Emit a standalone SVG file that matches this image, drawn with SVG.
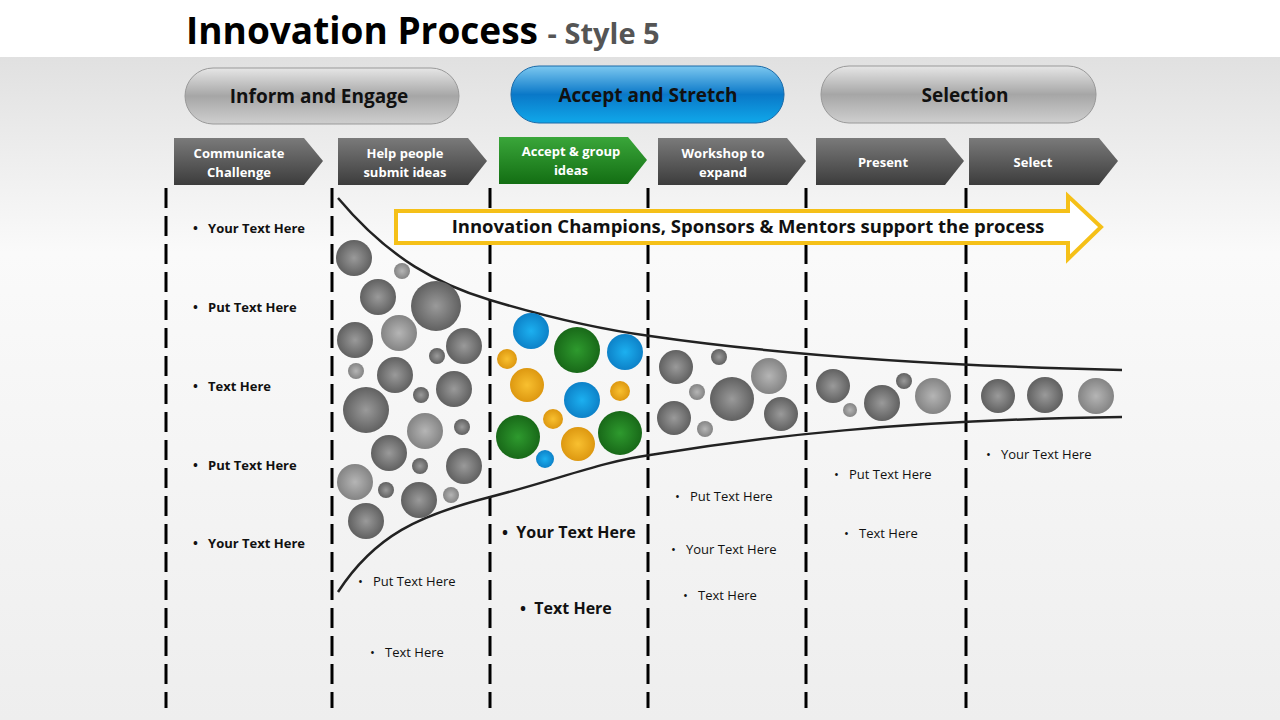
<svg xmlns="http://www.w3.org/2000/svg" width="1280" height="720" viewBox="0 0 1280 720">
<defs>
<linearGradient id="bg" x1="0" y1="0" x2="0" y2="1"><stop offset="0" stop-color="#d9d9d9"/><stop offset="0.35" stop-color="#fafafa"/><stop offset="1" stop-color="#eeeeee"/></linearGradient>
<linearGradient id="pg" x1="0" y1="0" x2="0" y2="1"><stop offset="0" stop-color="#e6e6e6"/><stop offset="0.5" stop-color="#a6a6a6"/><stop offset="1" stop-color="#cfcfcf"/></linearGradient>
<linearGradient id="pb" x1="0" y1="0" x2="0" y2="1"><stop offset="0" stop-color="#7cc8f0"/><stop offset="0.5" stop-color="#0a78c8"/><stop offset="1" stop-color="#10a8ea"/></linearGradient>
<linearGradient id="ag" x1="0" y1="0" x2="0" y2="1"><stop offset="0" stop-color="#7a7a7a"/><stop offset="1" stop-color="#3c3c3c"/></linearGradient>
<linearGradient id="agr" x1="0" y1="0" x2="0" y2="1"><stop offset="0" stop-color="#3aa63a"/><stop offset="1" stop-color="#136e13"/></linearGradient>
<radialGradient id="g1" cx="0.5" cy="0.5" r="0.6"><stop offset="0" stop-color="#9a9a9a"/><stop offset="1" stop-color="#555"/></radialGradient>
<radialGradient id="g2" cx="0.5" cy="0.5" r="0.6"><stop offset="0" stop-color="#b5b5b5"/><stop offset="1" stop-color="#7a7a7a"/></radialGradient>
<radialGradient id="gb" cx="0.5" cy="0.5" r="0.6"><stop offset="0" stop-color="#1cb0f0"/><stop offset="1" stop-color="#0a78c0"/></radialGradient>
<radialGradient id="gg" cx="0.5" cy="0.5" r="0.6"><stop offset="0" stop-color="#2e9a2e"/><stop offset="1" stop-color="#145f14"/></radialGradient>
<radialGradient id="go" cx="0.5" cy="0.5" r="0.6"><stop offset="0" stop-color="#f8c030"/><stop offset="1" stop-color="#d8900a"/></radialGradient>
</defs>
<style>
text{font-family:"Open Sans","Liberation Sans",sans-serif;white-space:pre}
.pill{font-size:19px;font-weight:bold;fill:#111;text-anchor:middle}
.hd{font-size:13px;font-weight:bold;fill:#fff;text-anchor:middle}
.b{font-size:13px;font-weight:bold;fill:#111}
.n{font-size:13px;fill:#111}
.bb{font-size:16px;font-weight:bold;fill:#111}
.dash{stroke:#000;stroke-width:3;stroke-dasharray:20,8}
.c1{fill:url(#g1)}.c2{fill:url(#g2)}.cb{fill:url(#gb)}.cg{fill:url(#gg)}.co{fill:url(#go)}
</style>
<rect width="1280" height="720" fill="url(#bg)"/>
<rect width="1280" height="57" fill="#fff"/>
<text x="186" y="44" style="font-size:37px;font-weight:bold" fill="#000">Innovation Process <tspan font-size="29" fill="#555">- Style 5</tspan></text>
<g id="pill1"><rect x="185" y="68" width="274" height="56" rx="28" fill="url(#pg)" stroke="#999"/><text class="pill" x="319" y="103">Inform and Engage</text></g>
<g id="pill2"><rect x="511" y="66" width="273" height="57" rx="28" fill="url(#pb)" stroke="#1a6aa8"/><text class="pill" x="648" y="102">Accept and Stretch</text></g>
<g id="pill3"><rect x="821" y="66" width="275" height="57" rx="28" fill="url(#pg)" stroke="#999"/><text class="pill" x="965" y="102">Selection</text></g>
<g id="h1"><path d="M174 138H304L323 161L304 185H174Z" fill="url(#ag)"/><text class="hd" x="239" y="158">Communicate</text><text class="hd" x="239" y="177">Challenge</text></g>
<g id="h2"><path d="M338 138H468L487 161L468 185H338Z" fill="url(#ag)"/><text class="hd" x="405" y="158">Help people</text><text class="hd" x="405" y="177">submit ideas</text></g>
<g id="h3"><path d="M499 137H628L647 160L628 184H499Z" fill="url(#agr)"/><text class="hd" x="571" y="156">Accept &amp; group</text><text class="hd" x="571" y="175">ideas</text></g>
<g id="h4"><path d="M658 138H787L806 161L787 185H658Z" fill="url(#ag)"/><text class="hd" x="723" y="158">Workshop to</text><text class="hd" x="723" y="177">expand</text></g>
<g id="h5"><path d="M816 138H945L964 161L945 185H816Z" fill="url(#ag)"/><text class="hd" x="883" y="167">Present</text></g>
<g id="h6"><path d="M969 138H1099L1118 161L1099 185H969Z" fill="url(#ag)"/><text class="hd" x="1033" y="167">Select</text></g>
<g id="lines">
<line class="dash" x1="166" y1="188" x2="166" y2="708"/><line class="dash" x1="332" y1="188" x2="332" y2="708"/><line class="dash" x1="490" y1="188" x2="490" y2="708"/><line class="dash" x1="648" y1="188" x2="648" y2="708"/><line class="dash" x1="806" y1="188" x2="806" y2="708"/><line class="dash" x1="966" y1="188" x2="966" y2="708"/>
<path d="M338 198C390 260 440 285 490 300S590 328 650 336C760 352 900 365 1122 370" fill="none" stroke="#222" stroke-width="2.5"/>
<path d="M338 592C375 535 420 515 490 497S600 462 650 455C760 437 900 420 1122 417" fill="none" stroke="#222" stroke-width="2.5"/>
</g>
<g id="banner"><path d="M396 211H1068V196L1101 227L1068 259V243H396Z" fill="#fff" stroke="#f5c018" stroke-width="4"/><text x="748" y="233" text-anchor="middle" style="font-size:18.5px;font-weight:bold" fill="#111">Innovation Champions, Sponsors &amp; Mentors support the process</text></g>
<g id="balls">
<circle class="c1" cx="354" cy="258" r="18"/><circle class="c2" cx="402" cy="271" r="8"/><circle class="c1" cx="378" cy="297" r="18"/><circle class="c1" cx="436" cy="306" r="25"/><circle class="c1" cx="355" cy="340" r="18"/><circle class="c2" cx="399" cy="333" r="18"/><circle class="c1" cx="464" cy="346" r="18"/><circle class="c1" cx="437" cy="356" r="8"/><circle class="c2" cx="356" cy="371" r="8"/><circle class="c1" cx="395" cy="375" r="18"/><circle class="c1" cx="454" cy="389" r="18"/><circle class="c1" cx="421" cy="395" r="8"/><circle class="c1" cx="366" cy="410" r="23"/><circle class="c2" cx="425" cy="431" r="18"/><circle class="c1" cx="462" cy="427" r="8"/><circle class="c1" cx="389" cy="453" r="18"/><circle class="c2" cx="355" cy="482" r="18"/><circle class="c1" cx="464" cy="466" r="18"/><circle class="c1" cx="420" cy="466" r="8"/><circle class="c1" cx="386" cy="490" r="8"/><circle class="c1" cx="419" cy="500" r="18"/><circle class="c2" cx="451" cy="495" r="8"/><circle class="c1" cx="366" cy="521" r="18"/>
<circle class="cb" cx="531" cy="331" r="18"/><circle class="cb" cx="625" cy="352" r="18"/><circle class="cb" cx="582" cy="400" r="18"/><circle class="cb" cx="545" cy="459" r="9"/>
<circle class="cg" cx="577" cy="350" r="23"/><circle class="cg" cx="518" cy="437" r="22"/><circle class="cg" cx="620" cy="433" r="22"/>
<circle class="co" cx="507" cy="359" r="10"/><circle class="co" cx="527" cy="385" r="17"/><circle class="co" cx="620" cy="391" r="10"/><circle class="co" cx="553" cy="419" r="10"/><circle class="co" cx="578" cy="444" r="17"/>
<circle class="c1" cx="676" cy="367" r="17"/><circle class="c1" cx="719" cy="357" r="8"/><circle class="c2" cx="769" cy="376" r="18"/><circle class="c2" cx="697" cy="392" r="8"/><circle class="c1" cx="732" cy="399" r="22"/><circle class="c1" cx="674" cy="418" r="17"/><circle class="c1" cx="781" cy="414" r="17"/><circle class="c2" cx="705" cy="429" r="8"/>
<circle class="c1" cx="833" cy="386" r="17"/><circle class="c2" cx="850" cy="410" r="7"/><circle class="c1" cx="904" cy="381" r="8"/><circle class="c1" cx="882" cy="403" r="18"/><circle class="c2" cx="933" cy="396" r="18"/>
<circle class="c1" cx="998" cy="396" r="17"/><circle class="c1" cx="1045" cy="395" r="18"/><circle class="c2" cx="1096" cy="396" r="18"/>
</g>
<g id="texts">
<text class="b" x="193" y="233">•   Your Text Here</text>
<text class="b" x="193" y="312">•   Put Text Here</text>
<text class="b" x="193" y="391">•   Text Here</text>
<text class="b" x="193" y="470">•   Put Text Here</text>
<text class="b" x="193" y="548">•   Your Text Here</text>
<text class="n" x="358" y="586">•   Put Text Here</text>
<text class="n" x="370" y="657">•   Text Here</text>
<text class="bb" x="502" y="538">•  Your Text Here</text>
<text class="bb" x="520" y="614">•  Text Here</text>
<text class="n" x="675" y="501">•   Put Text Here</text>
<text class="n" x="671" y="554">•   Your Text Here</text>
<text class="n" x="683" y="600">•   Text Here</text>
<text class="n" x="834" y="479">•   Put Text Here</text>
<text class="n" x="844" y="538">•   Text Here</text>
<text class="n" x="986" y="459">•   Your Text Here</text>
</g>
</svg>
